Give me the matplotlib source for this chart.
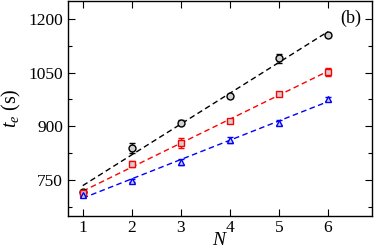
import numpy as np
import matplotlib
matplotlib.use("Agg")
import matplotlib.pyplot as plt
from matplotlib.ticker import MultipleLocator

plt.rcParams['font.family'] = ['Liberation Serif', 'DejaVu Serif']
plt.rcParams['mathtext.fontset'] = 'custom'
plt.rcParams['mathtext.rm'] = 'Liberation Serif'
plt.rcParams['mathtext.it'] = 'Liberation Serif:italic'

N = [1, 2, 3, 4, 5, 6]
black_y = [717, 839, 910, 985, 1090, 1154]
black_err = [5, 15, 8, 6, 12, 6]
red_y = [712, 795, 853, 915, 990, 1052]
red_err = [6, 8, 15, 6, 4, 12]
blue_y = [708, 748, 799, 862, 910, 976]
blue_err = [5, 5, 8, 8, 8, 6]
xticks = [1, 2, 3, 4, 5, 6]
yticks = [750, 900, 1050, 1200]

fig = plt.figure(figsize=(3.74, 2.49), dpi=100)
ax = fig.add_axes([0.182, 0.134, 0.813, 0.862])

series = [
    (black_y, black_err, 'black', 'o'),
    (red_y, red_err, 'red', 's'),
    (blue_y, blue_err, 'blue', '^'),
]
xs = np.array(N, dtype=float)
for y, e, c, m in series:
    p = np.polyfit(xs, y, 1)
    ax.plot(xs, np.polyval(p, xs), color=c, ls=(0, (4, 2.5)), lw=1.0, zorder=2)
    ax.errorbar(N, y, yerr=e, fmt=m, color=c, mfc='#d0d0d0', mec=c, ms=5,
                mew=1.0, elinewidth=1.0, capsize=2.5, capthick=1.0, zorder=3)

ax.set_xlim(0.7, 6.9)
ax.set_ylim(650, 1250)
ax.set_xticks(xticks)
ax.set_yticks(yticks)
ax.yaxis.set_minor_locator(MultipleLocator(75))
ax.tick_params(which='both', direction='in', top=True, right=True, labelsize=12.5, width=0.8)
ax.tick_params(which='major', length=5)
ax.tick_params(which='minor', length=3)
for s in ax.spines.values():
    s.set_linewidth(1.0)

ax.set_xlabel(r'$N$', fontsize=14, labelpad=-3)
ax.set_ylabel(r'$t_e$ (s)', fontsize=14.5, labelpad=4)
ax.text(0.965, 0.96, '(b)', transform=ax.transAxes, ha='right', va='top', fontsize=13)

fig.savefig('out.png', dpi=100)
